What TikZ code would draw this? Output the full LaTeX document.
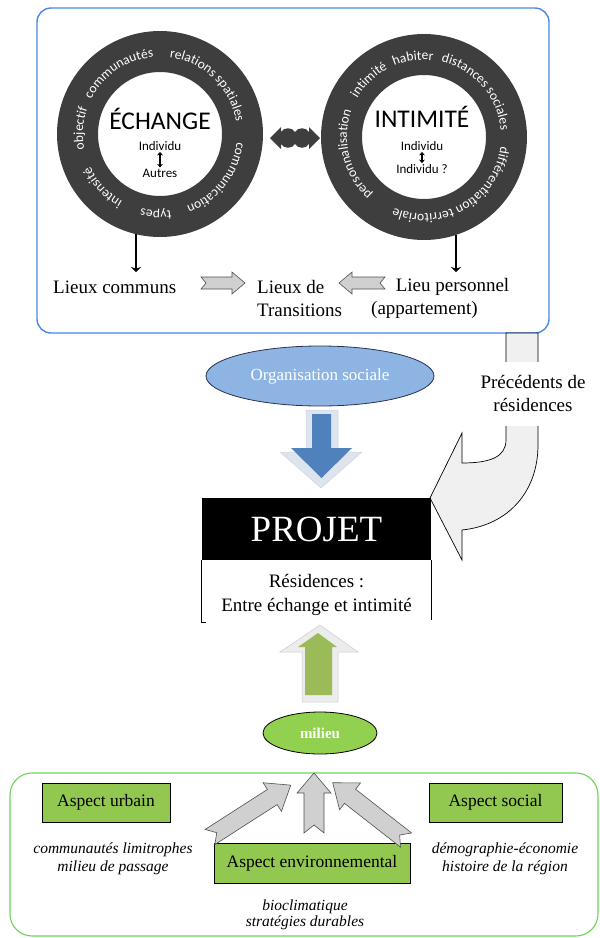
\documentclass[tikz,border=0pt]{standalone}
\usepackage{fontspec}
\setmainfont{Liberation Serif}
\newfontfamily\cfont{Carlito}
\usetikzlibrary{decorations.text,shapes.geometric,arrows.meta}
\definecolor{boxblue}{RGB}{74,134,232}
\definecolor{ringgray}{RGB}{62,62,62}
\definecolor{arrowfill}{RGB}{208,208,208}
\definecolor{arrowdraw}{RGB}{80,80,80}
\definecolor{orgblue}{RGB}{141,180,226}
\definecolor{navy}{RGB}{40,50,80}
\definecolor{darrowblue}{RGB}{79,129,189}
\definecolor{shadowblue}{RGB}{222,228,238}
\definecolor{greenarrow}{RGB}{155,187,89}
\definecolor{shadowgray}{RGB}{236,236,236}
\definecolor{milgreen}{RGB}{146,208,80}
\definecolor{aspectgreen}{RGB}{146,200,80}
\definecolor{framegreen}{RGB}{110,210,90}
\definecolor{precfill}{RGB}{240,240,240}
\newcommand\ringfont{\cfont\fontsize{13.5}{13.5}\selectfont\color{white}}
% #1 centre name, #2 middle angle, #3 text
\newcommand\ringword[3]{%
  \path[decorate,decoration={text along path,text align=center,text={|\ringfont|#3}}]
    ([shift={(#2+65:77)}]#1) arc[start angle=#2+65,end angle=#2-65,radius=77];}
% #1 style, #2 tail, #3 angle, #4 length, #5 shaft half, #6 head half, #7 head length, #8 notch
\newcommand\notchedarrow[8]{%
  \draw[#1,shift={#2},rotate=#3] (0,#5) -- ({#4-#7},#5) -- ({#4-#7},#6) -- (#4,0)
    -- ({#4-#7},-#6) -- ({#4-#7},-#5) -- (0,-#5) -- (#8,0) -- cycle;}
\tikzset{
  lbl/.style={font=\fontsize{19}{23}\selectfont,inner sep=1pt,align=center},
  gblock/.style={fill=arrowfill,draw=arrowdraw,line width=0.6pt},
  aspect/.style={draw=black,fill=aspectgreen,line width=0.8pt,font=\fontsize{17.5}{17.5}\selectfont,inner sep=0pt},
  note/.style={font=\itshape\fontsize{15.5}{18}\selectfont,align=center,inner sep=1pt},
  headsans/.style={font=\cfont\fontsize{25.5}{25.5}\selectfont,inner sep=1pt},
  smallsans/.style={font=\cfont\fontsize{13}{13}\selectfont,inner sep=1.2pt},
  dbl/.style={{Stealth[width=6pt,length=3.5pt]}-{Stealth[width=6pt,length=3.5pt]},line width=1.3pt},
  downline/.style={-{Stealth[width=10pt,length=5pt]},line width=1.1pt}
}
\begin{document}
\begin{tikzpicture}[x=1pt,y=1pt]
\useasboundingbox (0,0) rectangle (600,-938);
% top box
\draw[boxblue,line width=1.4pt,rounded corners=14] (37,-8) rectangle (549,-333);
% rings
\coordinate (ce) at (160,-134);
\coordinate (ci) at (424,-137);
\fill[ringgray,even odd rule] (ce) circle[radius=103] (ce) circle[radius=62];
\fill[ringgray,even odd rule] (ci) circle[radius=103] (ci) circle[radius=62];
\ringword{ce}{176}{objectif}
\ringword{ce}{124}{communautés}
\ringword{ce}{46}{relations spatiales}
\ringword{ce}{-38}{communication}
\ringword{ce}{-93}{types}
\ringword{ce}{-137}{intensité}
\ringword{ci}{194}{personnalisation}
\ringword{ci}{134}{intimité}
\ringword{ci}{98}{habiter}
\ringword{ci}{41}{distances sociales}
\ringword{ci}{-60}{différentiation territoriale}
% centres
\node[headsans] (ech) at (160,-119) {ÉCHANGE};
\node[smallsans] (ind1) at (160,-146) {Individu};
\node[smallsans] (aut) at (160,-173) {Autres};
\draw[dbl] (ind1) -- (aut);
\node[headsans] (intim) at (422,-117) {INTIMITÉ};
\node[smallsans] (ind2) at (422,-146) {Individu};
\node[smallsans] (ind3) at (422,-169) {Individu ?};
\draw[dbl] (ind2) -- (ind3);
% wavy double arrow
\fill[ringgray] (270,-138) -- (281,-127) -- (281,-132)
  .. controls (284,-127) and (292,-127) .. (295,-132)
  .. controls (298,-127) and (306,-127) .. (309,-132)
  -- (309,-127) -- (320,-138) -- (309,-149) -- (309,-144)
  .. controls (306,-149) and (298,-149) .. (295,-144)
  .. controls (292,-149) and (284,-149) .. (281,-144)
  -- (281,-149) -- cycle;
% down connectors
\coordinate (e1) at (136,-234);
\coordinate (e2) at (136,-272);
\coordinate (i1) at (456,-235);
\coordinate (i2) at (456,-272);
\draw[downline] (e1) -- (e2);
\draw[downline] (i1) -- (i2);
% lieux
\node[lbl,anchor=west] (lc) at (52,-287) {Lieux communs};
\node[lbl,align=left,anchor=west] (lt) at (256,-298.5) {Lieux de\\Transitions};
\node[lbl] (lp) at (452.5,-287) {Lieu personnel};
\node[lbl] (la) at (424.5,-310) {(appartement)};
\notchedarrow{gblock}{(201,-283)}{0}{44}{6}{11}{13}{5}
\notchedarrow{gblock}{(385,-283)}{180}{46}{6}{11}{13}{5}
% precedents arrow
\draw[fill=precfill,draw=black,line width=0.7pt] (506,-333) -- (506,-440)
  .. controls (506,-457) and (490,-463) .. (462,-463) -- (462,-433) -- (430,-498)
  -- (462,-560) -- (462,-530)
  .. controls (510,-525) and (538,-490) .. (538,-445) -- (538,-333) -- cycle;
\node[lbl,fill=white,minimum height=64,inner sep=2pt] (prec) at (533,-393.5) {Précédents de\\résidences};
% organisation sociale
\node[ellipse,fill=orgblue,draw=navy,line width=0.8pt,minimum width=228,minimum height=60,
  text=white,font=\fontsize{17}{17}\selectfont,inner sep=0pt] (org) at (320,-376) {Organisation sociale};
% blue arrow
\draw[fill=shadowblue,draw=shadowblue!85!gray,line width=0.5pt] (306,-410) -- (338,-410) -- (338,-452) -- (362,-452)
  -- (321,-488) -- (280,-452) -- (306,-452) -- cycle;
\fill[darrowblue] (312,-414) -- (331,-414) -- (331,-448) -- (352,-448) -- (321.5,-478)
  -- (291,-448) -- (312,-448) -- cycle;
% projet
\node[fill=black,minimum width=229,minimum height=62,inner sep=0pt,text=white,
  font=\fontsize{37}{37}\selectfont] (proj) at (316.5,-529) {PROJET};
\draw[line width=0.8pt] (proj.south west) -- ++(0,-62) -- ++(4,0);
\draw[line width=0.8pt] (proj.south east) -- ++(0,-60);
\node[lbl,font=\fontsize{19}{24}\selectfont] (res) at (316.5,-595) {Résidences :\\Entre échange et intimité};
% green arrow
\draw[fill=shadowgray,draw=gray!40,line width=0.5pt] (302,-702) -- (302,-652) -- (280,-652) -- (320,-625)
  -- (358,-652) -- (338,-652) -- (338,-702) -- cycle;
\fill[greenarrow] (305,-695) -- (305,-647) -- (298,-647) -- (318,-633) -- (337,-647)
  -- (332,-647) -- (332,-695) -- cycle;
% milieu
\node[ellipse,fill=milgreen,draw=black,line width=0.8pt,minimum width=114,minimum height=42,
  text=white,font=\bfseries\fontsize{15}{15}\selectfont,inner sep=0pt] (mil) at (320,-733) {milieu};
% bottom frame
\draw[framegreen,line width=1.1pt,rounded corners=22] (10,-773) rectangle (598,-936);
\node[aspect,minimum width=128,minimum height=39] (au) at (106,-802.5) {Aspect urbain};
\node[aspect,minimum width=133,minimum height=39] (as) at (495.5,-802.5) {Aspect social};
\node[aspect,minimum width=196,minimum height=40] (ae) at (312,-863) {Aspect environnemental};
\node[note] (nu) at (113,-859) {communautés limitrophes\\milieu de passage};
\node[note] (ns) at (505,-859) {démographie-économie\\histoire de la région};
\node[note,font=\itshape\fontsize{15.5}{16}\selectfont] (ne) at (305,-915) {bioclimatique\\stratégies durables};
% three grey arrows
\notchedarrow{gblock}{(210,-837)}{32.7}{96}{9}{17}{22}{8}
\notchedarrow{gblock}{(314,-833)}{90}{60}{10}{17}{20}{8}
\notchedarrow{gblock}{(406,-840)}{142}{93}{9}{17}{22}{8}
\end{tikzpicture}
\end{document}
